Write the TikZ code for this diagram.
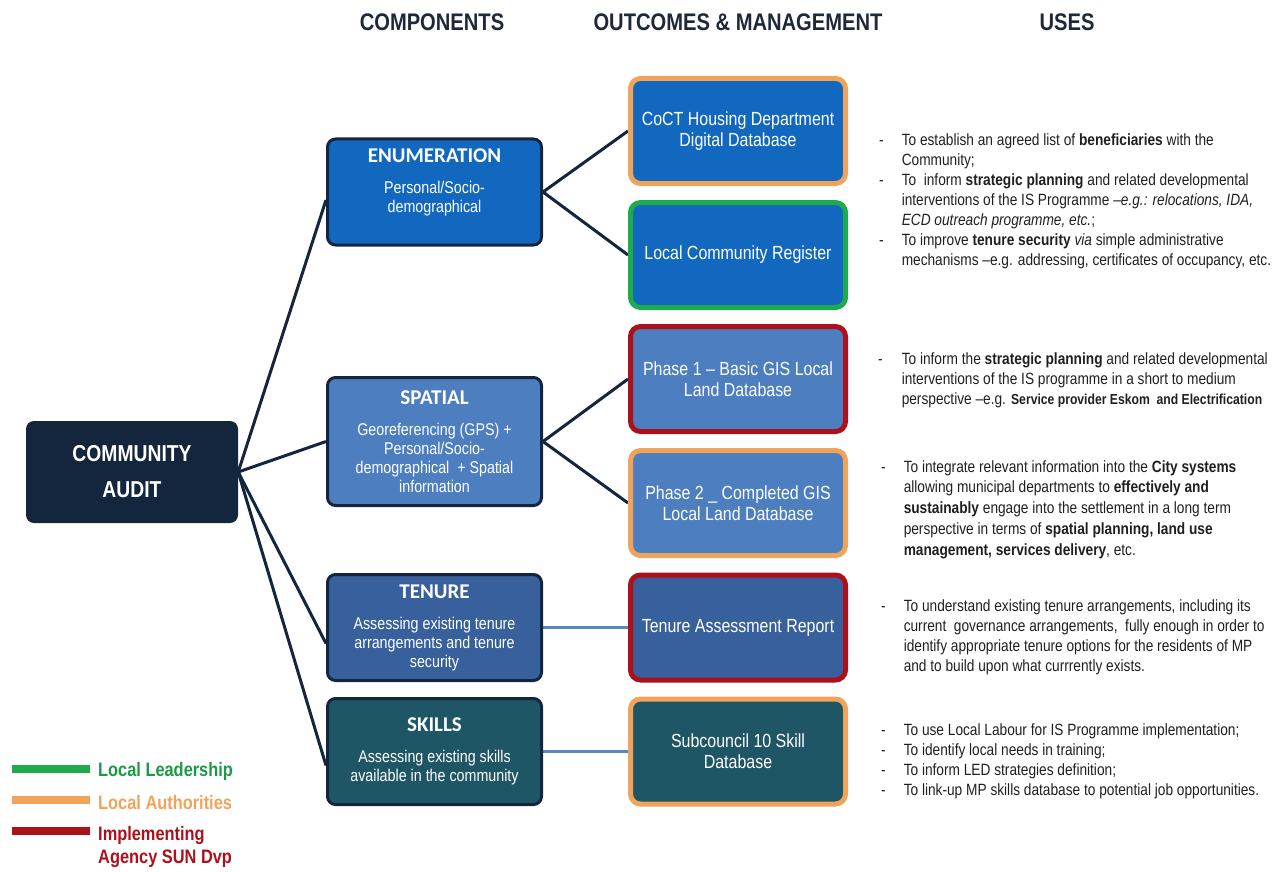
\documentclass[tikz,border=0pt]{standalone}
\usepackage{fontspec}
\setmainfont{Liberation Sans}[FakeStretch=0.84]
\newfontfamily\titlefont{Carlito}
\usetikzlibrary{backgrounds}

\definecolor{navy}{HTML}{14253E}
\definecolor{enumblue}{HTML}{1268BE}
\definecolor{spatblue}{HTML}{4C7EC0}
\definecolor{tenblue}{HTML}{37609C}
\definecolor{skillteal}{HTML}{1F5666}
\definecolor{authorange}{HTML}{F0A35A}
\definecolor{leadgreen}{HTML}{1FAA4E}
\definecolor{agencyred}{HTML}{AC101B}
\definecolor{linkblue}{HTML}{5C86C2}
\definecolor{headgray}{HTML}{1E2838}
\definecolor{usetext}{HTML}{1F1F1F}

\newcommand\headfont{\bfseries\fontsize{24}{28}\selectfont}
\newcommand\auditfont{\bfseries\fontsize{23}{36}\selectfont}
\newcommand\compfont{\fontsize{17}{19}\selectfont}
\newcommand\outcfont{\fontsize{19}{21}\selectfont}
\newcommand\usesfont{\fontsize{16.3}{20}\selectfont}
\newcommand\legendfont{\bfseries\fontsize{19.5}{23}\selectfont}
\newcommand\comptitle[1]{{\titlefont\bfseries\fontsize{21}{21}\selectfont #1}\\[12pt]}

\tikzset{
  head/.style={
    font=\headfont,
    text=headgray
  },
  audit/.style={
    rectangle,
    rounded corners=8pt,
    minimum width=212pt,
    minimum height=102pt,
    align=center,
    fill=navy,
    text=white,
    font=\auditfont
  },
  comp/.style={
    rectangle,
    rounded corners=8pt,
    minimum width=214pt,
    minimum height=106pt,
    align=center,
    draw=navy,
    line width=3pt,
    text=white,
    font=\compfont
  },
  outc/.style={
    rectangle,
    rounded corners=10pt,
    minimum width=215pt,
    minimum height=105pt,
    align=center,
    line width=5pt,
    text=white,
    font=\outcfont
  },
  link/.style={navy, line width=3pt},
  flatlink/.style={linkblue, line width=3pt},
  uses/.style={
    anchor=base west,
    inner sep=0pt,
    text=usetext,
    font=\usesfont
  },
  legend/.style={
    anchor=west,
    align=left,
    inner sep=0pt,
    font=\legendfont
  },
  legendbar/.style={line width=8pt}
}

\begin{document}
\begin{tikzpicture}[x=1pt,y=-1pt]
    \useasboundingbox (0,0) rectangle (1282,872);

    % column titles
    \node[head] (hcomp) at (432,22) {COMPONENTS};
    \node[head] (hout) at (738,22) {OUTCOMES \& MANAGEMENT};
    \node[head] (huse) at (1067,22) {USES};

    \node[audit] (audit) at (132,472) {COMMUNITY\\AUDIT};

    % components
    \node[comp, fill=enumblue] (enum) at (434.5,192)
      {\comptitle{ENUMERATION}Personal/Socio-\\demographical\\[3pt]\mbox{}};
    \node[comp, fill=spatblue, minimum height=128pt] (spatial) at (434.5,441.5)
      {\comptitle{SPATIAL}Georeferencing (GPS) +\\Personal/Socio-\\demographical\ \ + Spatial\\information};
    \node[comp, fill=tenblue] (tenure) at (434.5,627.5)
      {\comptitle{TENURE}Assessing existing tenure\\arrangements and tenure\\security};
    \node[comp, fill=skillteal] (skills) at (434.5,751.5)
      {\comptitle{SKILLS}Assessing existing skills\\available in the community};

    % outcomes
    \node[outc, draw=authorange, fill=enumblue] (coct) at (738,131) {CoCT Housing Department\\Digital Database};
    \node[outc, draw=leadgreen, fill=enumblue] (register) at (738,255) {Local Community Register};
    \node[outc, draw=agencyred, fill=spatblue] (phaseone) at (738,379) {Phase 1 -- Basic GIS Local\\Land Database};
    \node[outc, draw=authorange, fill=spatblue] (phasetwo) at (738,503) {Phase 2 \_ Completed GIS\\Local Land Database};
    \node[outc, draw=agencyred, fill=tenblue] (report) at (738,627.5) {Tenure Assessment Report};
    \node[outc, draw=authorange, fill=skillteal] (skilldb) at (738,751.5) {Subcouncil 10 Skill\\Database};

    \begin{scope}[on background layer]
      \draw[link] (audit.east) -- ([yshift=-8pt]enum.west);
      \draw[link] (audit.east) -- (spatial.west);
      \draw[link] (audit.east) -- ([yshift=-16pt]tenure.west);
      \draw[link] (audit.east) -- ([yshift=-14pt]skills.west);
      \draw[link] (enum.east) -- (coct.west);
      \draw[link] (enum.east) -- (register.west);
      \draw[link] (spatial.east) -- (phaseone.west);
      \draw[link] (spatial.east) -- (phasetwo.west);
      \draw[flatlink] (tenure.east) -- (report.west);
      \draw[flatlink] (skills.east) -- (skilldb.west);
    \end{scope}

    % uses
    \node[uses] (useenum) at (879,146) {\begin{tabular}[t]{@{}l@{\hspace{18pt}}l@{}}
      - & To establish an agreed list of \textbf{beneficiaries} with the\\
        & Community;\\
      - & To\ \ inform \textbf{strategic planning} and related developmental\\
        & interventions of the IS Programme \textit{--e.g.: relocations, IDA,}\\
        & \textit{ECD outreach programme, etc.};\\
      - & To improve \textbf{tenure security} \textit{via} simple administrative\\
        & mechanisms --e.g. addressing, certificates of occupancy, etc.
    \end{tabular}};
    \node[uses] (usephaseone) at (878,364) {\begin{tabular}[t]{@{}l@{\hspace{19pt}}l@{}}
      - & To inform the \textbf{strategic planning} and related developmental\\
        & interventions of the IS programme in a short to medium\\
        & perspective --e.g. {\bfseries\fontsize{14.5}{20}\selectfont Service provider Eskom\ \ and Electrification}
    \end{tabular}};
    \node[uses, font=\fontsize{16.3}{20.8}\selectfont] (usephasetwo) at (881,472) {\begin{tabular}[t]{@{}l@{\hspace{18pt}}l@{}}
      - & To integrate relevant information into the \textbf{City systems}\\
        & allowing municipal departments to \textbf{effectively and}\\
        & \textbf{sustainably} engage into the settlement in a long term\\
        & perspective in terms of \textbf{spatial planning, land use}\\
        & \textbf{management, services delivery}, etc.
    \end{tabular}};
    \node[uses] (usereport) at (881,611) {\begin{tabular}[t]{@{}l@{\hspace{18pt}}l@{}}
      - & To understand existing tenure arrangements, including its\\
        & current\ \ governance arrangements,\ \ fully enough in order to\\
        & identify appropriate tenure options for the residents of MP\\
        & and to build upon what currrently exists.
    \end{tabular}};
    \node[uses] (useskills) at (881,735) {\begin{tabular}[t]{@{}l@{\hspace{18pt}}l@{}}
      - & To use Local Labour for IS Programme implementation;\\
      - & To identify local needs in training;\\
      - & To inform LED strategies definition;\\
      - & To link-up MP skills database to potential job opportunities.
    \end{tabular}};

    % legend
    \draw[legendbar, leadgreen] (12,769) -- (90,769);
    \node[legend, text=leadgreen!90!black] (leadkey) at (98,771) {Local Leadership};
    \draw[legendbar, authorange] (12,800) -- (90,800);
    \node[legend, text=authorange] (authkey) at (98,803) {Local Authorities};
    \draw[legendbar, agencyred] (12,831) -- (90,831);
    \node[legend, text=agencyred, anchor=north west] (agencykey) at (98,826) {Implementing\\Agency SUN Dvp};
\end{tikzpicture}
\end{document}
